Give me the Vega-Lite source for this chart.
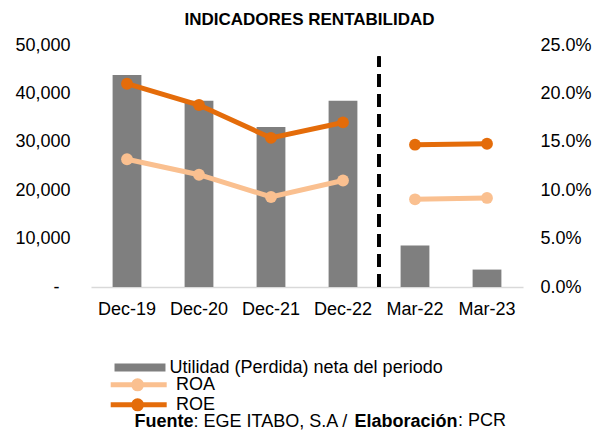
{
  "$schema": "https://vega.github.io/schema/vega-lite/v6.json",
  "width": 432,
  "height": 242,
  "autosize": {"type": "none"},
  "padding": {"left": 91, "top": 45, "right": 71, "bottom": 149},
  "background": "white",
  "title": {"text": ": PCR", "orient": "bottom", "anchor": "start", "frame": "group", "baseline": "alphabetic", "offset": 0, "dx": 367, "dy": -4, "fontSize": 18, "fontWeight": "normal", "font": "Liberation Sans", "color": "black"},
  "config": {"view": {"stroke": null}, "font": "Liberation Sans", "axis": {"grid": false}},
  "data": {"values": [
    {"period": "Dec-19", "util": 43800, "ROA": 0.132, "ROE": 0.210, "seg": "A"},
    {"period": "Dec-20", "util": 38500, "ROA": 0.116, "ROE": 0.188, "seg": "A"},
    {"period": "Dec-21", "util": 33050, "ROA": 0.093, "ROE": 0.154, "seg": "A"},
    {"period": "Dec-22", "util": 38500, "ROA": 0.110, "ROE": 0.170, "seg": "A"},
    {"period": "Mar-22", "util": 8550, "ROA": 0.0906, "ROE": 0.147, "seg": "B"},
    {"period": "Mar-23", "util": 3600, "ROA": 0.092, "ROE": 0.148, "seg": "B"}
  ]},
  "layer": [
    {
      "layer": [
        {
          "mark": {"type": "bar", "color": "#7f7f7f"},
          "encoding": {
            "x": {"field": "period", "type": "nominal", "sort": null,
              "scale": {"paddingInner": 0.6, "paddingOuter": 0.3},
              "axis": {"orient": "bottom", "labelFontSize": 18, "labelColor": "black", "labelAngle": 0, "ticks": false, "tickSize": 0, "labelPadding": 13, "domainColor": "#d9d9d9", "domainWidth": 1.5,
                "title": ": EGE ITABO, S.A /", "titleFontSize": 18, "titleFontWeight": "normal", "titleColor": "black", "titleAlign": "left", "titleAnchor": "start", "titleBaseline": "alphabetic", "titleX": 102, "titleY": 139}},
            "y": {"field": "util", "type": "quantitative", "scale": {"domain": [0, 50000], "nice": false},
              "axis": {"orient": "left", "values": [0, 10000, 20000, 30000, 40000, 50000], "labelExpr": "datum.value == 0 ? '-' : format(datum.value, ',')", "ticks": false, "tickSize": 0, "domain": false,
                "labelPadding": {"condition": {"test": "datum.value == 0", "value": 32}, "value": 21},
                "labelFontSize": 18, "labelColor": "black",
                "title": "Fuente", "titleFontSize": 18, "titleFontWeight": "bold", "titleColor": "black", "titleAngle": 0, "titleAlign": "left", "titleAnchor": "start", "titleBaseline": "alphabetic", "titleX": 43, "titleY": 381}},
            "fill": {"datum": "Utilidad (Perdida) neta del periodo", "type": "nominal", "scale": {"range": ["#7f7f7f"]},
              "legend": {"orient": "none", "legendX": 40, "legendY": 313.5, "title": null, "padding": 0, "symbolType": "M-3.64,-0.57H3.64V0.57H-3.64Z", "symbolSize": 196, "symbolStrokeWidth": 0, "symbolOpacity": 1, "labelFontSize": 18, "labelColor": "black", "labelOffset": 20.5, "labelLimit": 400}}
          }
        },
        {
          "mark": {"type": "rule", "strokeDash": [13, 7], "strokeWidth": 3, "color": "black"},
          "encoding": {
            "x": {"datum": "Dec-22", "type": "nominal", "bandPosition": 1.75},
            "y": {"datum": 0, "type": "quantitative"},
            "y2": {"datum": 47600}
          }
        }
      ]
    },
    {
      "transform": [{"fold": ["ROA", "ROE"], "as": ["serie", "pct"]}],
      "mark": {"type": "line", "strokeWidth": 5, "point": {"filled": true, "size": 140}},
      "encoding": {
        "x": {"field": "period", "type": "nominal", "sort": null,
          "axis": {"orient": "top", "labels": false, "ticks": false, "domain": false,
            "title": "INDICADORES RENTABILIDAD", "titleFontSize": 17, "titleFontWeight": "bold", "titleColor": "black", "titleAngle": 0, "titleAlign": "center", "titleAnchor": "start", "titleBaseline": "alphabetic", "titleX": 218, "titleY": -20.5}},
        "y": {"field": "pct", "type": "quantitative", "scale": {"domain": [0, 0.25], "nice": false},
          "axis": {"orient": "right", "values": [0, 0.05, 0.1, 0.15, 0.2, 0.25], "format": ".1%", "ticks": false, "tickSize": 0, "domain": false, "labelPadding": 17, "labelFontSize": 18, "labelColor": "black",
            "title": "Elaboración", "titleFontSize": 18, "titleFontWeight": "bold", "titleColor": "black", "titleAngle": 0, "titleAlign": "left", "titleAnchor": "start", "titleBaseline": "alphabetic", "titleX": -169, "titleY": 381}},
        "color": {"field": "serie", "type": "nominal", "scale": {"domain": ["ROA", "ROE"], "range": ["#FAC090", "#E46C0A"]},
          "legend": {"orient": "none", "legendX": 18.6, "legendY": 329.8, "title": null, "padding": 0, "direction": "vertical", "clipHeight": 20, "symbolType": "M-1.2,0H6.8M3.21,0A0.57,0.57,0,1,1,2.07,0A0.57,0.57,0,1,1,3.21,0Z", "symbolSize": 196, "symbolStrokeWidth": 5, "symbolOpacity": 1, "labelFontSize": 18, "labelColor": "black", "labelOffset": 47.4, "rowPadding": 0,
            "encode": {"symbols": {"update": {"fill": {"scale": "color", "field": "value"}, "stroke": {"scale": "color", "field": "value"}, "opacity": {"value": 1}}}}}},
        "detail": {"field": "seg"}
      }
    }
  ],
  "resolve": {"scale": {"y": "independent"}, "axis": {"x": "independent"}}
}
